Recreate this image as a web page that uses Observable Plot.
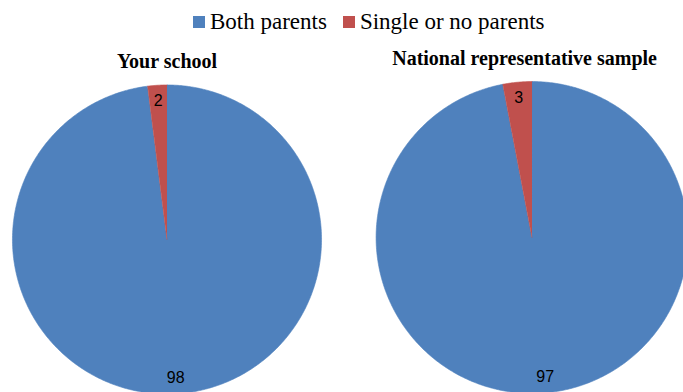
<!DOCTYPE html>
<html>
<head>
<meta charset="utf-8">
<script src="https://cdn.jsdelivr.net/npm/d3@7"></script>
<script src="https://cdn.jsdelivr.net/npm/@observablehq/plot@0.6"></script>
<style>
  html, body { margin: 0; padding: 0; background: #fff; }
  #chart { position: relative; width: 683px; height: 392px; overflow: hidden; }
  #chart > svg { position: absolute; left: 0; top: 0; }
  #legend { position: absolute; left: 0; top: 0; width: 683px; z-index: 1; }
  #legend .key-swatches {
    font-family: "Liberation Serif", "Times New Roman", serif !important;
    font-size: 23px !important;
    color: #000 !important;
    margin: 0 !important;
    padding-left: 193px !important;
    height: 44px !important;
    min-height: 44px !important;
    display: flex !important;
    align-items: center !important;
    flex-wrap: nowrap !important;
  }
  #legend .key-swatch { margin-right: 16px !important; display: inline-flex !important; align-items: center !important; }
  #legend .key-swatch > svg { margin-right: 5px !important; }
</style>
</head>
<body>
<div id="chart"><div id="legend"></div></div>
<script>
// Family structure: share of students (%) living with both parents vs. single or no parents
const categories = ["Both parents", "Single or no parents"];
const panels = ["Your school", "National representative sample"];
const yourSchool = [98, 2];
const nationalSample = [97, 3];
const colors = ["#4F81BD", "#C0504D"];

const values = [yourSchool, nationalSample];

// Where each pie sits, in plot units (1 unit ≈ 155px)
const layout = [
  {cx: 0, cy: 0, r: 0.997, titleShift: 0},
  {cx: 2.355, cy: 0.013, r: 1.006, titleShift: -0.048}
];

// Build slice outlines: centre, then points along the arc (clockwise from 12 o'clock)
const outlines = [];
const labels = [];
panels.forEach((panel, i) => {
  const {cx, cy, r} = layout[i];
  const arcs = d3.pie().sort(null).value(d => d)(values[i]);
  arcs.forEach((a, j) => {
    const key = `${panel}|${categories[j]}`;
    const n = Math.max(2, Math.ceil((a.endAngle - a.startAngle) / 0.01));
    outlines.push({key, category: categories[j], x: cx, y: cy});
    for (let k = 0; k <= n; ++k) {
      const t = a.startAngle + (a.endAngle - a.startAngle) * k / n;
      outlines.push({key, category: categories[j], x: cx + r * Math.sin(t), y: cy + r * Math.cos(t)});
    }
    const m = (a.startAngle + a.endAngle) / 2;
    labels.push({x: cx + 0.9 * r * Math.sin(m), y: cy + 0.9 * r * Math.cos(m), text: String(a.data)});
  });
});

const titles = panels.map((p, i) => ({
  text: p,
  x: layout[i].cx + layout[i].titleShift,
  y: layout[i].cy + layout[i].r
}));

const plot = Plot.plot({
  width: 683,
  height: 392,
  margin: 0,
  x: {domain: [-1.0742, 3.3323], axis: null},
  y: {domain: [-0.9871, 1.5419], axis: null},
  color: {domain: categories, range: colors},
  style: {background: "transparent", overflow: "hidden"},
  marks: [
    Plot.line(outlines, {x: "x", y: "y", z: "key", fill: "category", stroke: "category", strokeWidth: 0.6, curve: "linear"}),
    Plot.text(labels, {
      x: "x", y: "y", text: "text",
      fontFamily: "Liberation Sans, Arial, sans-serif", fontSize: 16, fill: "#000",
      textAnchor: "middle", lineAnchor: "middle"
    }),
    Plot.text(titles, {
      x: "x", y: "y", text: "text", dy: -17,
      fontFamily: "Liberation Serif, Times New Roman, serif", fontSize: 20, fontWeight: "bold",
      fill: "#000", textAnchor: "middle", lineAnchor: "bottom"
    })
  ]
});

const chart = document.getElementById("chart");
chart.appendChild(plot);
document.getElementById("legend").appendChild(
  plot.legend("color", {swatchSize: 12, className: "key"})
);
</script>
</body>
</html>
